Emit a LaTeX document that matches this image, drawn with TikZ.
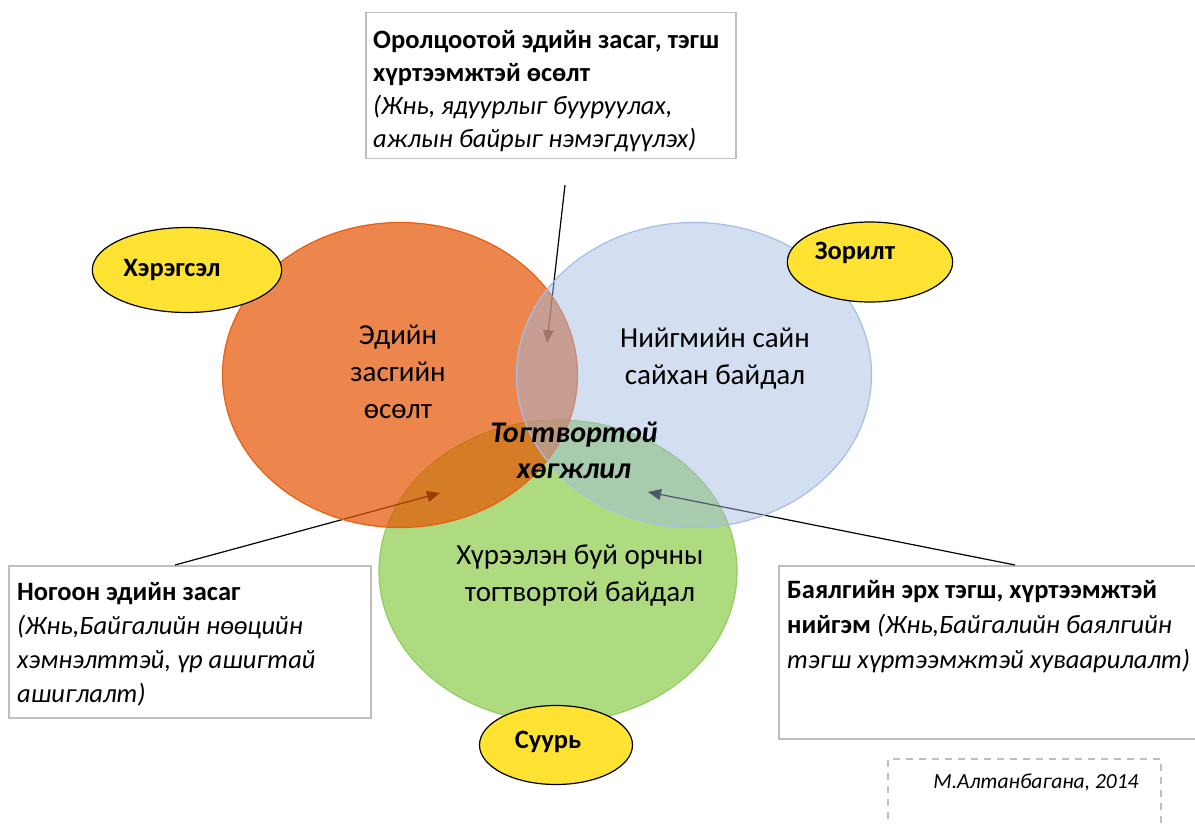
\documentclass[tikz,border=0pt]{standalone}
\usepackage{fontspec}
\setmainfont{Carlito}
\usetikzlibrary{arrows.meta,calc,shapes.geometric}
\definecolor{orfill}{RGB}{229,84,0}
\definecolor{ordraw}{RGB}{232,95,15}
\definecolor{blfill}{RGB}{162,185,225}
\definecolor{bldraw}{RGB}{165,190,232}
\definecolor{grfill}{RGB}{174,219,128}
\definecolor{grdraw}{RGB}{146,205,96}
\definecolor{yel}{RGB}{255,226,50}
\definecolor{boxgray}{RGB}{191,191,191}
\begin{document}
\begin{tikzpicture}[x=1pt,y=-1pt,
  infobox/.style={draw=boxgray, line width=1.5pt, fill=white, inner sep=0pt, anchor=north west},
  infotext/.style={anchor=north west, align=left, inner sep=0pt, font=\fontsize{26.5}{34}\selectfont},
  tag/.style={ellipse, draw=black, line width=1.2pt, fill=yel, font=\fontsize{26.5}{30}\selectfont\bfseries},
  circtext/.style={align=center, inner sep=0pt, font=\fontsize{29}{37}\selectfont},
  pointer/.style={line width=1.2pt, -{Triangle[length=13pt,width=11pt]}}
]
\fill[white] (0,0) rectangle (1195,824);
\useasboundingbox (0,0) rectangle (1195,824);

% boxes
\node[infobox, minimum width=370pt, minimum height=146pt] (tbox) at (365,12) {};
\node[infobox, minimum width=362pt, minimum height=152pt] (lbox) at (8,565) {};
\node[infobox, minimum width=430pt, minimum height=173pt] (rbox) at (778,565) {};
\node[draw=boxgray, line width=1.5pt, dash pattern=on 7pt off 6pt, inner sep=0pt, anchor=north west, minimum width=273pt, minimum height=90pt] (abox) at (887,758) {};

% green circle (bottom)
\node[ellipse, draw=grdraw, line width=1.2pt, fill=grfill, minimum width=358pt, minimum height=302pt] (green) at (558,571) {};

% connectors (drawn under the transparent circles)
\coordinate (tstart) at (565,185);
\coordinate (ttip) at (547,343);
\coordinate (ltip) at (440,493);
\coordinate (rtip) at (648,492);
\draw[pointer] (tstart) -- (ttip);
\draw[pointer] ($(lbox.north west)+(167,0)$) -- (ltip);
\draw[pointer] ($(rbox.north west)+(237,0)$) -- (rtip);

% orange and blue circles
\node[ellipse, draw=ordraw, line width=1.2pt, fill=orfill, fill opacity=0.7, minimum width=355pt, minimum height=305pt] (orange) at (400,375) {};
\node[ellipse, draw=bldraw, line width=1.2pt, fill=blfill, fill opacity=0.47, minimum width=355pt, minimum height=305pt] (blue) at (694,375) {};

% circle texts
\node[circtext] (econ) at (398,372) {Эдийн\\засгийн\\өсөлт};
\node[circtext] (soc) at (715,359) {Нийгмийн сайн\\сайхан байдал};
\node[circtext] (env) at (580,576) {Хүрээлэн буй орчны\\тогтвортой байдал};
\node[circtext, font=\fontsize{30}{36}\selectfont\bfseries\itshape] (sd) at (574,450) {Тогтвортой\\хөгжлил};

% tags
\node[tag, minimum width=189pt, minimum height=85pt] (tool) at (187,270) {Хэрэгсэл\hspace*{30pt}};
\node[tag, minimum width=156pt, minimum height=80pt] (goal) at (870,262) {\raisebox{9pt}[\height][\depth]{Зорилт}\hspace*{30pt}};
\node[tag, minimum width=153pt, minimum height=79pt] (base) at (556,745) {\raisebox{3pt}[\height][\depth]{Суурь}\hspace*{16pt}};

% box texts
\node[infotext, font=\fontsize{26.5}{33}\selectfont] (ttext) at (373,30) {\textbf{Оролцоотой эдийн засаг, тэгш}\\\textbf{хүртээмжтэй өсөлт}\\\textit{(Жнь, ядуурлыг бууруулах,}\\\textit{ажлын байрыг нэмэгдүүлэх)}};
\node[infotext] (ltext) at (17,582) {\textbf{Ногоон эдийн засаг}\\\textit{(Жнь,Байгалийн нөөцийн}\\\textit{хэмнэлттэй, үр ашигтай}\\\textit{ашиглалт)}};
\node[infotext, font=\fontsize{26.5}{35}\selectfont] (rtext) at (787,580) {\textbf{Баялгийн эрх тэгш, хүртээмжтэй}\\\textbf{нийгэм} \textit{(Жнь,Байгалийн баялгийн}\\\textit{тэгш хүртээмжтэй хуваарилалт)}};
\node[font=\fontsize{21.5}{24}\selectfont\itshape, inner sep=0pt] (author) at (1036,783) {М.Алтанбагана, 2014};
\end{tikzpicture}
\end{document}
